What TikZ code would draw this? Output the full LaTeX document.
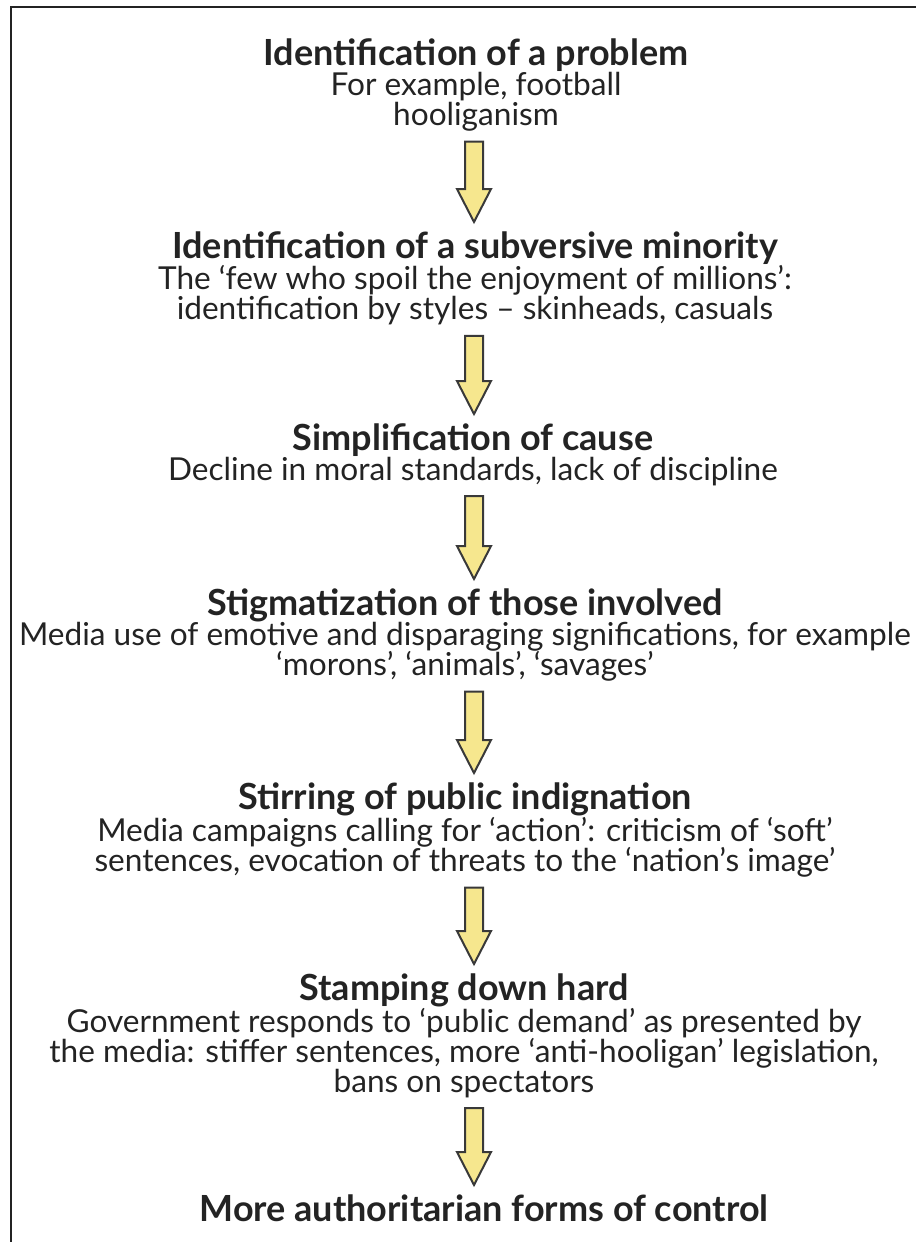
\documentclass[tikz,border=0pt]{standalone}
\usepackage{fontspec}
\setmainfont{Lato}
\usetikzlibrary{calc}

\definecolor{arrowyellow}{RGB}{246,231,142}
\definecolor{inkgrey}{RGB}{35,35,35}

\tikzset{every picture/.style={line width=0.75pt}}
\tikzset{
  stagetext/.style={anchor=north,inner sep=0.75pt,align=center,text=inkgrey,
    font=\fontsize{23.7}{22.5}\selectfont},
  flowarrow/.style={draw=inkgrey!90,fill=arrowyellow,line width=1.5pt,line join=miter}
}
\newcommand{\stagetitle}[1]{{\bfseries\fontsize{27}{22.5}\selectfont #1}\\[0pt]}
% block arrow from the bottom of one stage to the top of the next, on the axis
\newcommand{\stagearrow}[2]{%
  \draw[flowarrow] ($(#1.south -| axis)+(-9,9)$) -- ($(#2.north -| axis)+(-9,-41)$) -- ($(#2.north -| axis)+(-17,-41)$)
    -- ($(#2.north -| axis)+(0,-8)$) -- ($(#2.north -| axis)+(17,-41)$) -- ($(#2.north -| axis)+(9,-41)$)
    -- ($(#1.south -| axis)+(9,9)$) -- cycle ;}

\begin{document}
\begin{tikzpicture}[x=0.75pt,y=0.75pt,yscale=-1,xscale=1]
        \useasboundingbox (0,0) rectangle (916,1242);
        \coordinate (axis) at (474,0);

        %Straight Lines [id:frame]
        \draw [color=inkgrey,line width=1.6pt]  (11,1242) -- (11,7) -- (916,7) ;

        % Text Node
        \draw (476,37) node [stagetext] (problem) {\stagetitle{Identification of a problem}For example, football\\hooliganism};
        % Text Node
        \draw (475,230) node [stagetext] (minority) {\stagetitle{Identification of a subversive minority}The ‘few who spoil the enjoyment of millions’:\\identification by styles -- skinheads, casuals};
        % Text Node
        \draw (473,422) node [stagetext] (cause) {\stagetitle{Simplification of cause}Decline in moral standards, lack of discipline};
        % Text Node
        \draw (465,587) node [stagetext] (stigma) {\stagetitle{Stigmatization of those involved}Media use of emotive and disparaging significations, for example\\‘morons’, ‘animals’, ‘savages’};
        % Text Node
        \draw (465,781) node [stagetext] (stirring) {\stagetitle{Stirring of public indignation}Media campaigns calling for ‘action’: criticism of ‘soft’\\sentences, evocation of threats to the ‘nation’s image’};
        % Text Node
        \draw (464,972) node [stagetext] (stamping) {\stagetitle{Stamping down hard}Government responds to ‘public demand’ as presented by\\the media: stiffer sentences, more ‘anti-hooligan’ legislation,\\bans on spectators};
        % Text Node
        \draw (484,1193) node [stagetext] (control) {\stagetitle{More authoritarian forms of control}};

        %Shape: Block Arrows
        \stagearrow{problem}{minority}
        \stagearrow{minority}{cause}
        \stagearrow{cause}{stigma}
        \stagearrow{stigma}{stirring}
        \stagearrow{stirring}{stamping}
        \stagearrow{stamping}{control}

\end{tikzpicture}
\end{document}
